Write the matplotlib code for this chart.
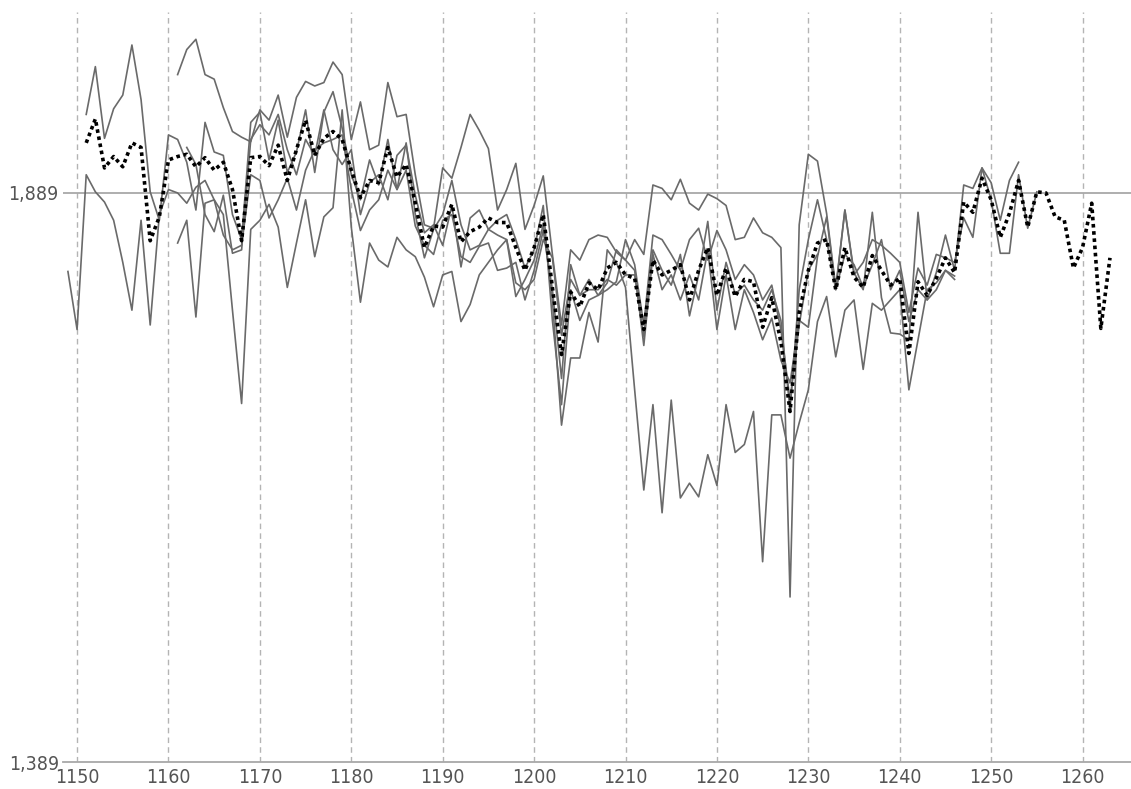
import numpy as np
import matplotlib
matplotlib.use("Agg")
import matplotlib.pyplot as plt
from matplotlib import font_manager

# years covered by the chart
years = np.arange(1149, 1264)

# mean chronology (dotted), 1151-1263
mean_start = 1151
mean_vals = [1933, 1954, 1911, 1921, 1912, 1933, 1929, 1847, 1868, 1918,
             1921, 1923, 1912, 1920, 1909, 1916, 1892, 1847, 1920, 1921,
             1913, 1931, 1900, 1927, 1953, 1922, 1937, 1943, 1936, 1909,
             1885, 1900, 1898, 1929, 1903, 1914, 1880, 1841, 1860, 1859,
             1879, 1846, 1855, 1859, 1867, 1863, 1863, 1841, 1821, 1841,
             1870, 1806, 1747, 1802, 1789, 1810, 1804, 1823, 1828, 1817,
             1814, 1769, 1830, 1817, 1821, 1826, 1795, 1821, 1841, 1799,
             1823, 1798, 1813, 1811, 1771, 1797, 1758, 1697, 1784, 1821,
             1845, 1848, 1804, 1841, 1815, 1806, 1834, 1821, 1808, 1814,
             1748, 1811, 1799, 1814, 1832, 1819, 1881, 1872, 1902, 1883,
             1850, 1871, 1900, 1859, 1890, 1889, 1868, 1865, 1823, 1841,
             1880, 1770, 1832]

# individual series (grey), each with its first year
s1_start = 1149
s1 = [1820, 1769, 1905, 1890, 1881, 1865, 1828, 1786, 1865, 1773,
      1870, 1892, 1889, 1880, 1894, 1900, 1883, 1870, 1786, 1704,
      1857, 1865, 1879, 1859, 1806, 1845, 1883, 1833, 1868, 1876,
      1962, 1859, 1793, 1845, 1830, 1824, 1850, 1839, 1833, 1815,
      1789, 1817, 1820, 1776, 1791, 1817, 1828, 1839, 1848, 1798,
      1813, 1830, 1861, 1795, 1685, 1744, 1744, 1784, 1758, 1839,
      1828, 1806, 1716, 1628, 1703, 1608, 1707, 1621, 1634, 1622,
      1659, 1632, 1703, 1661, 1668, 1697, 1565, 1694, 1694, 1656,
      1687, 1716, 1776, 1798, 1745, 1786, 1795, 1734, 1792, 1786,
      1795, 1804, 1716, 1760, 1804, 1810, 1821, 1813]

s2_start = 1151
s2 = [1958, 2000, 1937, 1963, 1975, 2019, 1971, 1890, 1865, 1940,
      1936, 1916, 1874, 1951, 1925, 1922, 1870, 1848, 1951, 1960,
      1918, 1953, 1907, 1925, 1962, 1907, 1960, 1978, 1946, 1905,
      1883, 1918, 1896, 1936, 1892, 1933, 1870, 1832, 1857, 1870,
      1900, 1861, 1839, 1843, 1857, 1865, 1870, 1848, 1823, 1839,
      1878, 1777, 1703, 1804, 1777, 1795, 1799, 1810, 1839, 1830,
      1821, 1755, 1835, 1804, 1817, 1795, 1817, 1795, 1839, 1769,
      1817, 1769, 1804, 1784, 1760, 1779, 1742, 1722, 1777, 1771,
      1833, 1868, 1804, 1874, 1817, 1828, 1848, 1843, 1836, 1828,
      1784, 1823, 1808, 1835, 1832, 1828, 1867, 1850, 1911, 1883,
      1836, 1836, 1905, 1858, 1890]

s3_start = 1161
s3 = [1993, 2015, 2024, 1993, 1989, 1964, 1943, 1938, 1934, 1962,
      1953, 1975, 1938, 1973, 1987, 1983, 1986, 2004, 1993, 1936,
      1969, 1927, 1931, 1986, 1956, 1958, 1905, 1861, 1858, 1911,
      1902, 1929, 1958, 1944, 1928, 1874, 1892, 1915, 1857, 1878,
      1904, 1835, 1773, 1839, 1830, 1848, 1852, 1850, 1837, 1830,
      1848, 1835, 1896, 1893, 1883, 1901, 1880, 1874, 1888, 1884,
      1878, 1848, 1850, 1867, 1854, 1850, 1841, 1534, 1861, 1923,
      1917, 1871, 1806, 1874, 1819, 1804, 1872, 1797, 1766, 1765,
      1760, 1872, 1795, 1819, 1852, 1821, 1896, 1893, 1911, 1898,
      1865, 1900, 1916]

s4_start = 1161
s4 = [1845, 1865, 1780, 1880, 1883, 1852, 1839, 1843, 1905, 1900,
      1867, 1883, 1902, 1874, 1909, 1927, 1933, 1936, 1940, 1892,
      1856, 1874, 1883, 1909, 1892, 1909, 1860, 1843, 1835, 1865,
      1870, 1833, 1828, 1842, 1845, 1821, 1823, 1828, 1795, 1821,
      1856, 1804, 1726, 1826, 1799, 1813, 1799, 1804, 1811, 1848,
      1826, 1773, 1852, 1848, 1835, 1821, 1848, 1858, 1830, 1856,
      1839, 1813, 1826, 1817, 1795, 1808, 1769, 1707, 1773, 1821,
      1835]

s5_start = 1162
s5 = [1929, 1914, 1870, 1855, 1887, 1836, 1839, 1936, 1949, 1940,
      1958, 1927, 1905, 1936, 1922, 1962, 1927, 1914, 1927, 1870,
      1898, 1905, 1883, 1922, 1931, 1887, 1854, 1861, 1843, 1878,
      1824, 1867, 1874, 1857, 1852, 1848, 1810, 1804, 1813, 1848,
      1832, 1764, 1813, 1799, 1804, 1804, 1813, 1808, 1817, 1817,
      1763, 1839, 1821, 1808, 1835, 1781, 1817, 1864, 1786, 1828,
      1800, 1808, 1795, 1786, 1804, 1777, 1698, 1804, 1848, 1883,
      1848, 1804, 1835, 1826, 1806, 1826, 1848, 1804, 1821, 1776,
      1804, 1795, 1804, 1821, 1816]

series = [(s1_start, s1), (s2_start, s2), (s3_start, s3),
          (s4_start, s4), (s5_start, s5)]

x_ticks = list(range(1150, 1261, 10))
y_ticks = [1389, 1889]

# look for a regular narrow / condensed sans face
narrow = None
for f in font_manager.fontManager.ttflist:
    nm = f.name.lower()
    is_narrow = ("narrow" in nm or "condensed" in nm or
                 f.stretch in ("condensed", "semi-condensed", "extra-condensed"))
    is_regular = f.weight in (400, "normal", "regular", "book") and f.style == "normal"
    if is_narrow and is_regular and "serif" not in nm and "mono" not in nm:
        narrow = f
        break
if narrow is not None:
    tick_font = font_manager.FontProperties(fname=narrow.fname, size=14)
else:
    tick_font = font_manager.FontProperties(family="Roboto", size=13.5)

fig = plt.figure(figsize=(11.31, 7.89), dpi=100)
ax = fig.add_axes([0.0557, 0.0342, 0.9443, 0.9506])

# grid
for xt in x_ticks:
    ax.axvline(xt, color="#b4b4b4", lw=1, ls=(0, (4, 3)), zorder=1)
ax.axhline(1889, color="#a8a8a8", lw=1.3, zorder=1)

for start, vals in series:
    xs = np.arange(start, start + len(vals))
    ax.plot(xs, vals, color="#6a6a6a", lw=1.2, zorder=2)

mx = np.arange(mean_start, mean_start + len(mean_vals))
ax.plot(mx, mean_vals, color="black", lw=2.6, ls=(0, (1, 1)), zorder=3)

ax.set_xlim(1148.46, 1265.3)
ax.set_ylim(1389, 2048)
ax.set_xticks(x_ticks)
ax.set_yticks(y_ticks)
ax.set_yticklabels(["{:,}".format(v) for v in y_ticks])
ax.tick_params(axis="x", length=0, pad=4, colors="#555555")
ax.tick_params(axis="y", length=0, pad=3, colors="#555555")
for lab in ax.get_xticklabels() + ax.get_yticklabels():
    lab.set_fontproperties(tick_font)
for side in ["top", "right", "left"]:
    ax.spines[side].set_visible(False)
ax.spines["bottom"].set_color("#a8a8a8")
ax.spines["bottom"].set_linewidth(1.3)

fig.savefig("out.png", dpi=100)
